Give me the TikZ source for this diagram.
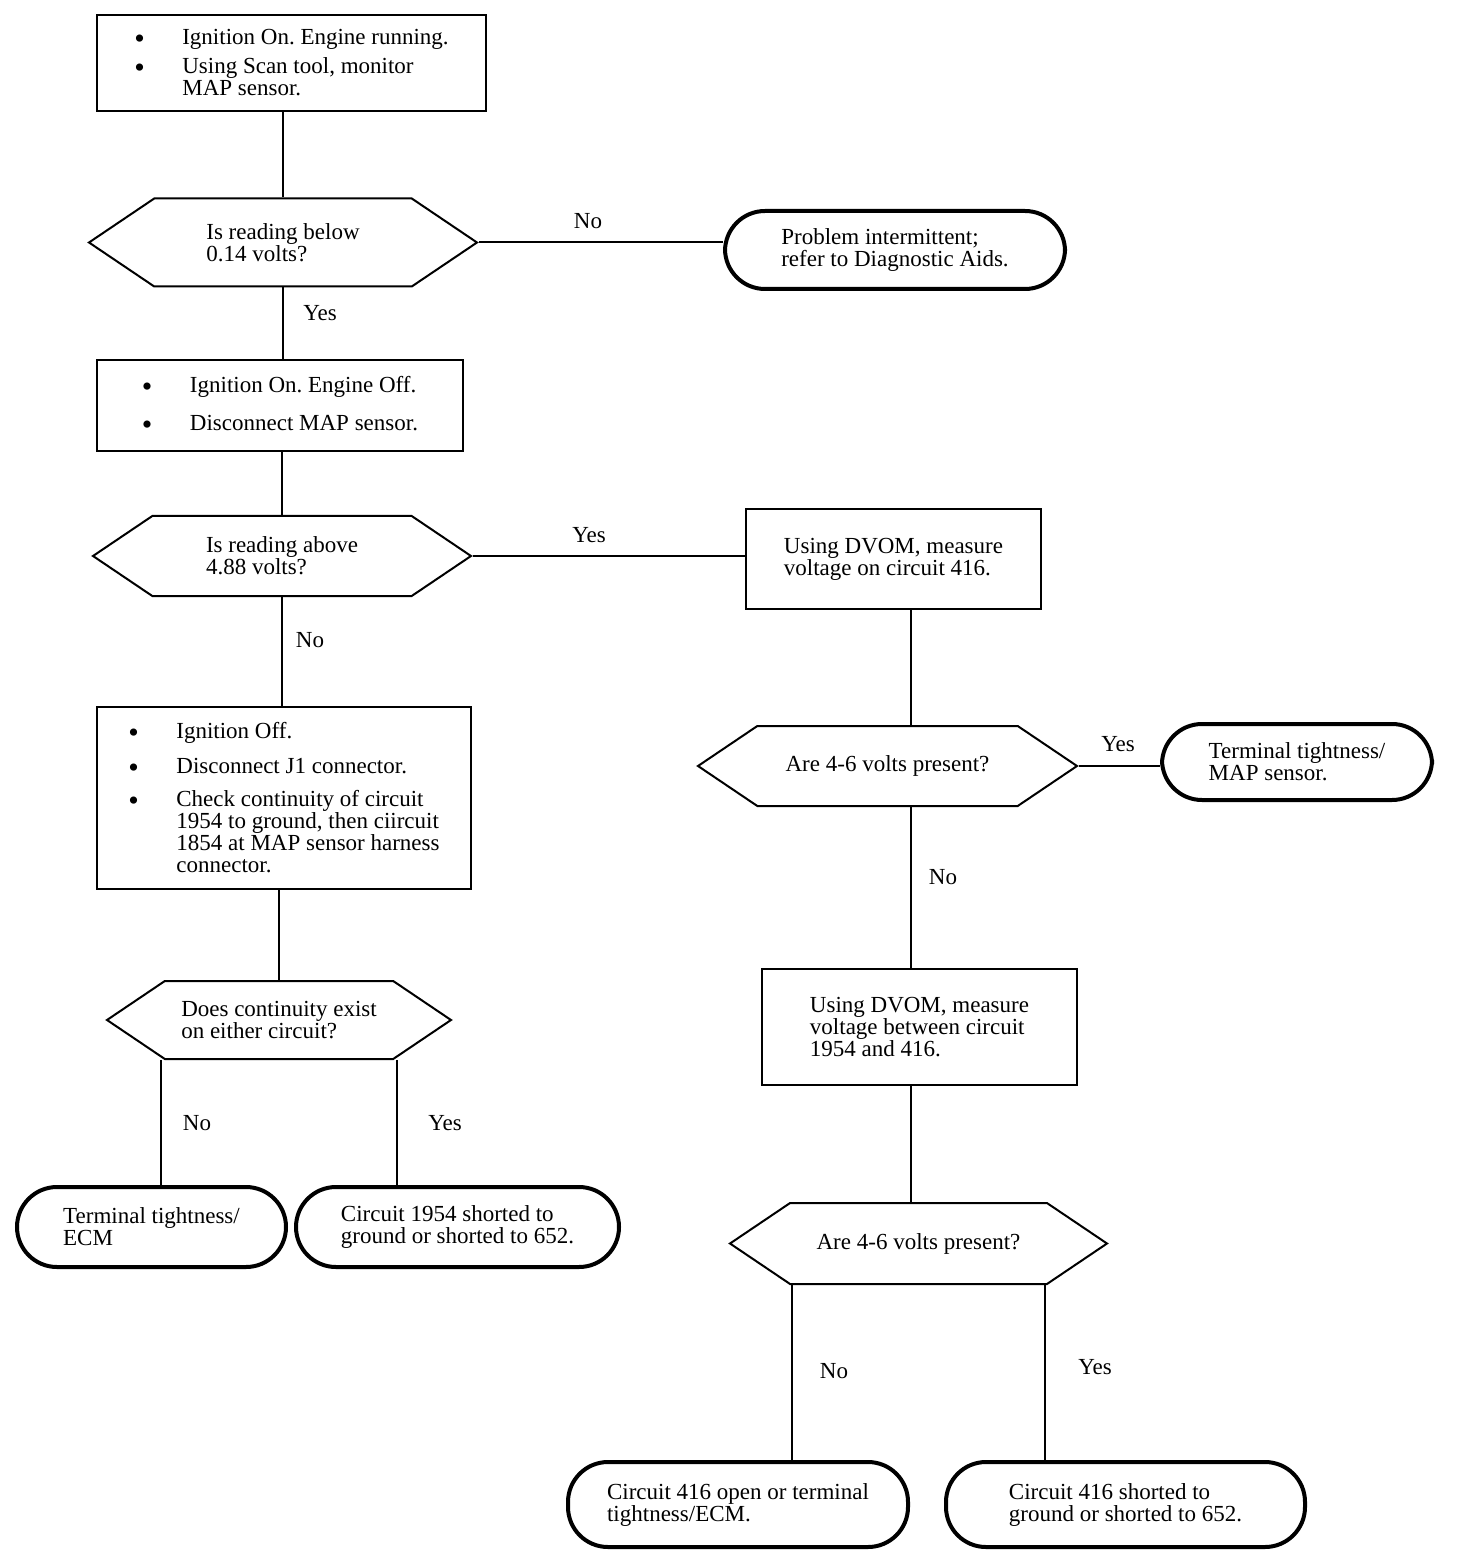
\documentclass[tikz,border=0pt]{standalone}
\usepackage{fontspec}
\setmainfont{Liberation Serif}
\usepackage{tikz}
\usetikzlibrary{shapes.symbols}

\newcommand{\bul}{\makebox[24pt][l]{\raisebox{-1.8pt}{\fontsize{15}{11}\selectfont\textbullet}}}
\newcommand{\ind}{\hspace*{24pt}}
\frenchspacing

\begin{document}
\begin{tikzpicture}[x=0.5pt, y=-0.5pt,
    every node/.style={font=\fontsize{11.5}{11}\selectfont, inner sep=0pt},
    stepbox/.style={draw, line width=1pt, align=left},
    askbox/.style={draw, line width=1pt, align=left, signal, signal to=east and west, signal pointer angle=68},
    endbox/.style={draw, line width=2pt, rounded corners=20pt, align=left},
    link/.style={line width=1pt}]
    \useasboundingbox (0,0) rectangle (1456,1566);

    % left column
    \node[stepbox, minimum width=194.5pt, minimum height=48pt] (box1) at (291.5,63)
        {\bul Ignition On. Engine running.\\[3.5pt] \bul Using Scan tool, monitor\\ \ind MAP sensor.};
    \node[askbox, minimum width=194pt, minimum height=44pt] (h1) at (283,242.5) {Is reading below\\0.14 volts?};
    \node[endbox, minimum width=170pt, minimum height=39pt] (o1) at (895,250) {Problem intermittent;\\refer to Diagnostic Aids.};
    \node[stepbox, minimum width=183pt, minimum height=45.5pt] (box2) at (280,405.5)
        {\bul Ignition On. Engine Off.\\[8pt] \bul Disconnect MAP sensor.};
    \node[askbox, minimum width=189pt, minimum height=40pt] (h2) at (282,556) {Is reading above\\4.88 volts?};
    \node[stepbox, minimum width=187pt, minimum height=91pt] (box4) at (284,798)
        {\bul Ignition Off.\\[6.5pt] \bul Disconnect J1 connector.\\[5.5pt] \bul Check continuity of circuit\\ \ind 1954 to ground, then ciircuit\\ \ind 1854 at MAP sensor harness\\ \ind connector.};
    \node[askbox, minimum width=172pt, minimum height=39pt] (h3) at (279,1020) {Does continuity exist\\on either circuit?};
    \node[endbox, minimum width=134.5pt, minimum height=40pt] (o2) at (151.5,1227) {Terminal tightness/\\ECM};
    \node[endbox, minimum width=161.5pt, minimum height=40pt] (o3) at (457.5,1227) {Circuit 1954 shorted to\\ground or shorted to 652.};

    % right column
    \node[stepbox, minimum width=147.5pt, minimum height=50pt] (box3) at (893.5,559) {Using DVOM, measure\\voltage on circuit 416.};
    \node[askbox, minimum width=189.5pt, minimum height=40pt] (h4) at (887.5,766) {Are 4-6 volts present?};
    \node[endbox, minimum width=135pt, minimum height=38pt] (o4) at (1297,762) {Terminal tightness/\\MAP sensor.};
    \node[stepbox, minimum width=157.5pt, minimum height=58pt] (box5) at (919.5,1027) {Using DVOM, measure\\voltage between circuit\\1954 and 416.};
    \node[askbox, minimum width=188.5pt, minimum height=40.5pt] (h5) at (918.5,1243.5) {Are 4-6 volts present?};
    \node[endbox, minimum width=170pt, minimum height=42.5pt] (o5) at (738,1504.5) {Circuit 416 open or terminal\\tightness/ECM.};
    \node[endbox, minimum width=179.5pt, minimum height=42.5pt] (o6) at (1125.5,1504.5) {Circuit 416 shorted to\\ground or shorted to 652.};

    \coordinate (rcol) at (911,0);
    \coordinate (h3l) at ([xshift=-59pt]h3.south);
    \coordinate (h3r) at ([xshift=59pt]h3.south);
    \coordinate (h5l) at ([xshift=-63.25pt]h5.south);
    \coordinate (h5r) at ([xshift=63.25pt]h5.south);

    \draw[link] (h1.north |- box1.south) -- (h1.north);
    \draw[link] (h1.east) -- (h1.east -| o1.west);
    \draw[link] (h1.south) -- (h1.south |- box2.north);
    \draw[link] (h2.north |- box2.south) -- (h2.north);
    \draw[link] (h2.east) -- (h2.east -| box3.west);
    \draw[link] (h2.south) -- (h2.south |- box4.north);
    \draw[link] (h3.north |- box4.south) -- (h3.north);
    \draw[link] (h3l) -- (h3l |- o2.north);
    \draw[link] (h3r) -- (h3r |- o3.north);
    \draw[link] (rcol |- box3.south) -- (rcol |- h4.north);
    \draw[link] (h4.east) -- (h4.east -| o4.west);
    \draw[link] (rcol |- h4.south) -- (rcol |- box5.north);
    \draw[link] (rcol |- box5.south) -- (rcol |- h5.north);
    \draw[link] (h5l) -- (h5l |- o5.north);
    \draw[link] (h5r) -- (h5r |- o6.north);

    % answers
    \node (no1) at (588,221) {No};
    \node (yes1) at (320,313) {Yes};
    \node (yes2) at (589,535) {Yes};
    \node (no2) at (310,640) {No};
    \node (no3) at (197,1123) {No};
    \node (yes3) at (445,1123) {Yes};
    \node (yes4) at (1118,744) {Yes};
    \node (no4) at (943,877) {No};
    \node (no5) at (834,1371) {No};
    \node (yes5) at (1095,1367) {Yes};
\end{tikzpicture}
\end{document}
